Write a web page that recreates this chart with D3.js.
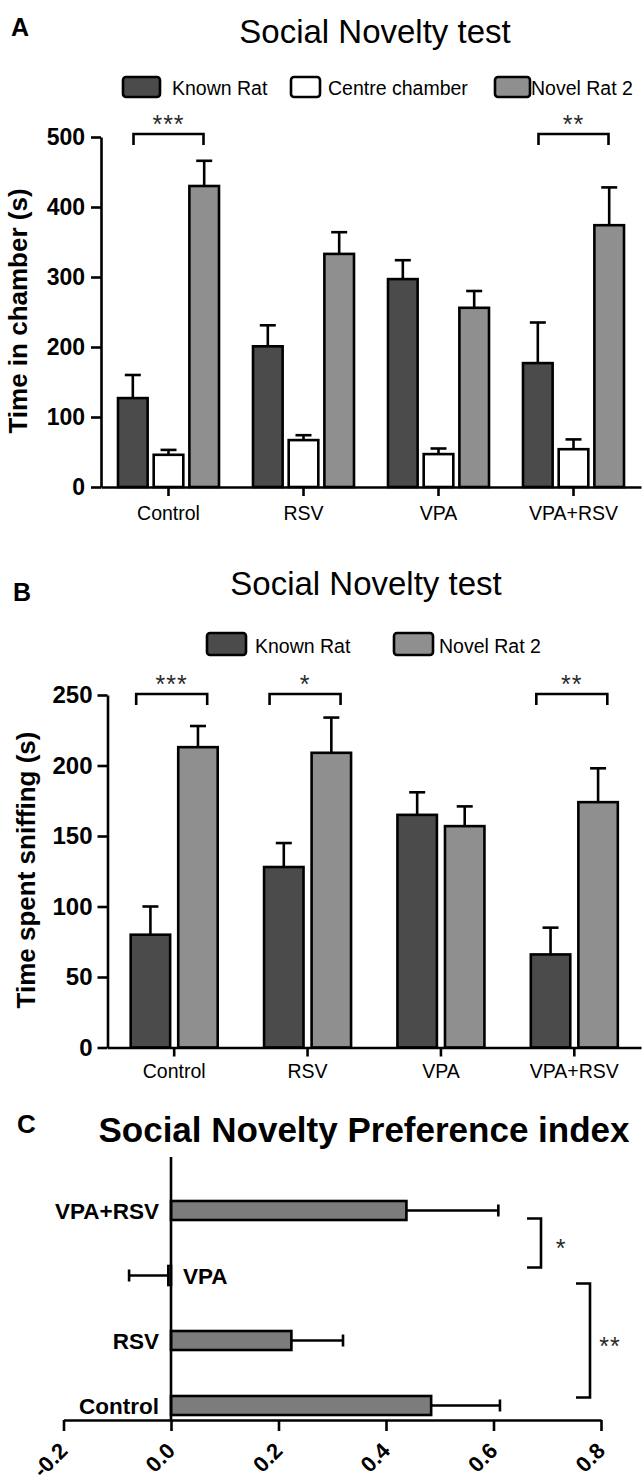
<!DOCTYPE html>
<html>
<head>
<meta charset="utf-8" />
<script src="https://d3js.org/d3.v7.min.js"></script>
<style>
  body { margin: 0; background: #fff; }
  svg text { font-family: "Liberation Sans", Arial, sans-serif; }
</style>
</head>
<body>
<svg id="fig" width="644" height="1482"></svg>
<script>
// groups used on every panel
var groups = ["Control", "RSV", "VPA", "VPA+RSV"];

// panel A - time in chamber (s), mean and SEM
var seriesA = ["Known Rat", "Centre chamber", "Novel Rat 2"];
var knownA = [127, 201, 297, 177];
var knownErrA = [33, 30, 27, 58];
var centreA = [46, 67, 47, 54];
var centreErrA = [7, 7, 8, 14];
var novelA = [430, 333, 256, 374];
var novelErrA = [36, 31, 24, 54];
var ticksA = [0, 100, 200, 300, 400, 500];
var sigA = [{group: "Control", label: "***"}, {group: "VPA+RSV", label: "**"}];

// panel B - time spent sniffing (s)
var seriesB = ["Known Rat", "Novel Rat 2"];
var knownB = [80, 128, 165, 66];
var knownErrB = [20, 17, 16, 19];
var novelB = [213, 209, 157, 174];
var novelErrB = [15, 25, 14, 24];
var ticksB = [0, 50, 100, 150, 200, 250];
var sigB = [{group: "Control", label: "***"}, {group: "RSV", label: "*"}, {group: "VPA+RSV", label: "**"}];

// panel C - preference index, top to bottom
var groupsC = ["VPA+RSV", "VPA", "RSV", "Control"];
var indexC = [0.438, -0.005, 0.224, 0.484];
var indexErrC = [0.171, 0.073, 0.096, 0.128];
var ticksC = [-0.2, 0, 0.2, 0.4, 0.6, 0.8];
var sigC = [{from: "VPA+RSV", to: "VPA", label: "*"}, {from: "VPA", to: "Control", label: "**"}];

var colours = {"Known Rat": "#4b4b4b", "Centre chamber": "#ffffff", "Novel Rat 2": "#8f8f8f"};
var FONT = "Liberation Sans, Arial, sans-serif";

var svg = d3.select("#fig");
svg.append("rect").attr("width", 644).attr("height", 1482).attr("fill", "#fff");

function txt(x, y, s, size, weight, anchor) {
  return svg.append("text")
    .attr("x", x).attr("y", y)
    .attr("font-size", size)
    .attr("font-weight", weight || "normal")
    .attr("text-anchor", anchor || "start")
    .attr("fill", "#000")
    .text(s);
}

function styleAxis(ax, size, weight) {
  ax.attr("font-family", FONT).attr("font-size", size).attr("font-weight", weight);
  ax.select(".domain").attr("stroke", "#000").attr("stroke-width", 2.6);
  ax.selectAll(".tick line").attr("stroke", "#000").attr("stroke-width", 2.6);
  ax.selectAll(".tick text").attr("fill", "#000");
}

function groupedChart(o) {
  var x0 = d3.scaleBand().domain(groups).range([o.left, o.right]);
  var x1 = d3.scaleBand().domain(o.series).range([-o.half, o.half]).paddingInner(0.17);
  var y = d3.scaleLinear().domain([0, o.max]).range([o.zero, o.top]);
  var g = svg.append("g");
  var bw = x1.bandwidth();

  o.series.forEach(function(s, si) {
    var rows = groups.map(function(gr, i) {
      return {group: gr, v: o.values[si][i], e: o.errs[si][i]};
    });
    var bar = g.append("g").selectAll("g").data(rows).enter().append("g")
      .attr("transform", function(d) { return "translate(" + (x0(d.group) + x0.bandwidth() / 2 + x1(s)) + ",0)"; });

    bar.append("line")
      .attr("x1", bw / 2).attr("x2", bw / 2)
      .attr("y1", function(d) { return y(d.v); })
      .attr("y2", function(d) { return y(d.v + d.e); })
      .attr("stroke", "#000").attr("stroke-width", 2.6);
    bar.append("line")
      .attr("x1", bw / 2 - 8).attr("x2", bw / 2 + 8)
      .attr("y1", function(d) { return y(d.v + d.e); })
      .attr("y2", function(d) { return y(d.v + d.e); })
      .attr("stroke", "#000").attr("stroke-width", 2.6);
    bar.append("rect")
      .attr("x", 0).attr("width", bw)
      .attr("y", function(d) { return y(d.v); })
      .attr("height", function(d) { return y(0) - y(d.v); })
      .attr("fill", colours[s])
      .attr("stroke", "#000").attr("stroke-width", 2.6);
  });

  // axes
  var ay = g.append("g").attr("transform", "translate(" + o.left + ",0)")
    .call(d3.axisLeft(y).tickValues(o.ticks).tickSize(10).tickSizeOuter(0).tickPadding(o.pad));
  styleAxis(ay, o.tickFont, "bold");

  var ax = g.append("g").attr("transform", "translate(0," + o.zero + ")")
    .call(d3.axisBottom(x0).tickSize(9).tickSizeOuter(0));
  styleAxis(ax, 19.5, "normal");
  ax.selectAll(".tick text").attr("y", o.catDy).attr("dy", 0);

  // significance brackets
  o.sig.forEach(function(s) {
    var cx = x0(s.group) + x0.bandwidth() / 2;
    var xl = cx + o.brL, xr = cx + o.brR;
    g.append("path")
      .attr("d", "M" + xl + "," + (o.brY + 11) + "V" + o.brY + "H" + xr + "V" + (o.brY + 11))
      .attr("fill", "none").attr("stroke", "#000").attr("stroke-width", 2.6);
    g.append("text")
      .attr("x", (xl + xr) / 2).attr("y", o.starY)
      .attr("text-anchor", "middle")
      .attr("font-size", 25).attr("letter-spacing", 1)
      .attr("fill", "#2a2a2a")
      .text(s.label);
  });

  // y label
  g.append("text")
    .attr("transform", "translate(" + o.labX + "," + o.labY + ") rotate(-90)")
    .attr("text-anchor", "middle")
    .attr("font-size", 26).attr("font-weight", "bold")
    .text(o.yLabel);
}

function legend(names, swX, swW, textX, y0, h, base) {
  names.forEach(function(n, i) {
    svg.append("rect")
      .attr("x", swX[i]).attr("y", y0).attr("width", swW[i]).attr("height", h)
      .attr("rx", 3)
      .attr("fill", colours[n]).attr("stroke", "#000").attr("stroke-width", 2.6);
    txt(textX[i], base, n, 19.5);
  });
}

// ---- Panel A ----
txt(11, 36, "A", 25, "bold");
txt(375, 43, "Social Novelty test", 33, "normal", "middle");
legend(seriesA, [123, 291, 495], [37, 29, 35], [172, 328, 531], 77, 20, 95);
groupedChart({
  left: 101, right: 641, top: 137, zero: 487, max: 500,
  series: seriesA,
  values: [knownA, centreA, novelA],
  errs: [knownErrA, centreErrA, novelErrA],
  half: 50.5, ticks: ticksA, tickFont: 23, pad: 6, catDy: 33,
  sig: sigA, brL: -35, brR: 35, brY: 134, starY: 133,
  yLabel: "Time in chamber (s)", labX: 27, labY: 311
});

// ---- Panel B ----
txt(13, 601, "B", 25, "bold");
txt(366, 595, "Social Novelty test", 33, "normal", "middle");
legend(seriesB, [207, 394], [39, 39], [255, 439], 633, 22, 653);
groupedChart({
  left: 107.5, right: 641, top: 695, zero: 1047.5, max: 250,
  series: seriesB,
  values: [knownB, novelB],
  errs: [knownErrB, novelErrB],
  half: 43.5, ticks: ticksB, tickFont: 24, pad: 5, catDy: 30.5,
  sig: sigB, brL: -38, brR: 33, brY: 694, starY: 693,
  yLabel: "Time spent sniffing (s)", labX: 35, labY: 870
});

// ---- Panel C ----
txt(17, 1133, "C", 26, "bold");
txt(364, 1142, "Social Novelty Preference index", 35, "bold", "middle");

var xC = d3.scaleLinear().domain([-0.2, 0.8]).range([63.5, 601]);
var yC = d3.scalePoint().domain(groupsC).range([1210.5, 1405.5]);
var axisYC = 1420, barH = 19;
var gC = svg.append("g");
var rowsC = groupsC.map(function(c, i) { return {cat: c, v: indexC[i], e: indexErrC[i]}; });

var rowC = gC.selectAll("g.row").data(rowsC).enter().append("g").attr("class", "row");
rowC.append("line")
  .attr("x1", function(d) { return xC(d.v); })
  .attr("x2", function(d) { return xC(d.v < 0 ? d.v - d.e : d.v + d.e); })
  .attr("y1", function(d) { return yC(d.cat); })
  .attr("y2", function(d) { return yC(d.cat); })
  .attr("stroke", "#000").attr("stroke-width", 2.6);
rowC.append("line")
  .attr("x1", function(d) { return xC(d.v < 0 ? d.v - d.e : d.v + d.e); })
  .attr("x2", function(d) { return xC(d.v < 0 ? d.v - d.e : d.v + d.e); })
  .attr("y1", function(d) { return yC(d.cat) - 6; })
  .attr("y2", function(d) { return yC(d.cat) + 6; })
  .attr("stroke", "#000").attr("stroke-width", 2.6);
rowC.append("rect")
  .attr("x", function(d) { return Math.min(xC(0), xC(d.v)); })
  .attr("width", function(d) { return Math.abs(xC(d.v) - xC(0)); })
  .attr("y", function(d) { return yC(d.cat) - barH / 2; })
  .attr("height", barH)
  .attr("fill", "#7c7c7c").attr("stroke", "#000").attr("stroke-width", 2.6);
rowC.append("text")
  .attr("x", function(d) { return d.v < 0 ? xC(0) + 12 : xC(0) - 12; })
  .attr("y", function(d) { return yC(d.cat); })
  .attr("dy", "0.36em")
  .attr("text-anchor", function(d) { return d.v < 0 ? "start" : "end"; })
  .attr("font-size", 22.5).attr("font-weight", "bold")
  .text(function(d) { return d.cat; });

// vertical axis at zero
gC.append("line")
  .attr("x1", xC(0)).attr("x2", xC(0))
  .attr("y1", 1157).attr("y2", axisYC)
  .attr("stroke", "#000").attr("stroke-width", 2.6);

var axC = gC.append("g").attr("transform", "translate(0," + axisYC + ")")
  .call(d3.axisBottom(xC).tickValues(ticksC).tickSize(11).tickSizeOuter(0)
    .tickFormat(function(d) { return d.toFixed(1); }));
styleAxis(axC, 22, "bold");
axC.selectAll(".tick text")
  .attr("x", 0).attr("y", 0).attr("dy", 0)
  .attr("text-anchor", "end")
  .attr("transform", "translate(5,32) rotate(-45)");

// brackets on the right
var bracketX = [541, 590];
sigC.forEach(function(s, i) {
  var y1 = yC(s.from) + 8, y2 = yC(s.to) - 8, bx = bracketX[i];
  gC.append("path")
    .attr("d", "M" + (bx - 14) + "," + y1 + "H" + bx + "V" + y2 + "H" + (bx - 14))
    .attr("fill", "none").attr("stroke", "#000").attr("stroke-width", 2.6);
  gC.append("text")
    .attr("x", bx + 20).attr("y", (y1 + y2) / 2 + 14)
    .attr("text-anchor", "middle")
    .attr("font-size", 25).attr("letter-spacing", 1)
    .attr("fill", "#2a2a2a")
    .text(s.label);
});
</script>
</body>
</html>
